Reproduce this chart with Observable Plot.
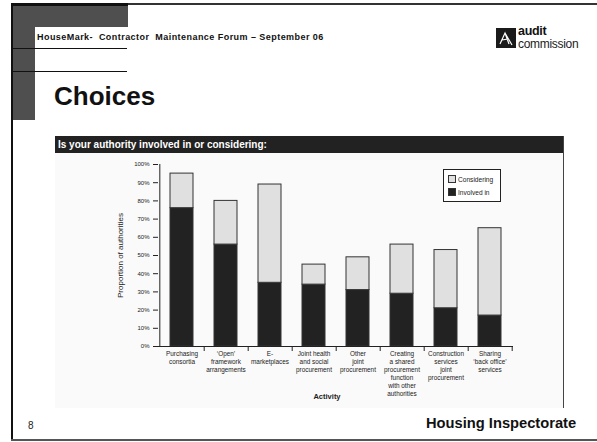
<!DOCTYPE html>
<html>
<head>
<meta charset="utf-8">
<script src="https://cdn.jsdelivr.net/npm/d3@7"></script>
<script src="https://cdn.jsdelivr.net/npm/@observablehq/plot@0.6"></script>
<style>
  body { margin: 0; background: #fff; font-family: "Liberation Sans", Arial, sans-serif; }
  #slide { position: relative; width: 597px; height: 442px; overflow: hidden; background: #fff; }
  .abs { position: absolute; }
  .txt { position: absolute; white-space: pre; line-height: 1; color: #111; }
  #legend { position: absolute; left: 443px; top: 169px; width: 56px; height: 31px; border: 1px solid #222; background: #fff; font-size: 6.6px; color: #222; }
  #legend .row { position: absolute; left: 4px; display: flex; align-items: center; }
  #legend .sw { width: 8px; height: 8px; border: 1px solid #333; box-sizing: border-box; margin-right: 2px; }
</style>
</head>
<body>
<div id="slide">
  <!-- slide frame -->
  <div class="abs" style="left:11px;top:3px;width:117px;height:3px;background:#111"></div>
  <div class="abs" style="left:128px;top:3px;width:469px;height:2px;background:#333"></div>
  <div class="abs" style="left:11px;top:3px;width:2px;height:438px;background:#111"></div>
  <div class="abs" style="left:11px;top:439px;width:586px;height:2px;background:#555"></div>
  <!-- grey header block -->
  <div class="abs" style="left:13px;top:6px;width:115px;height:21px;background:#4f4f4f"></div>
  <div class="abs" style="left:13px;top:27px;width:22px;height:93px;background:#4f4f4f"></div>
  <div class="abs" style="left:13px;top:48px;width:114px;height:1px;background:#111"></div>
  <div class="abs" style="left:13px;top:71px;width:114px;height:1px;background:#111"></div>

  <div class="txt" style="left:37px;top:33px;font-size:9px;font-weight:bold;letter-spacing:0.45px">HouseMark-  Contractor  Maintenance Forum – September 06</div>
  <div class="txt" style="left:54px;top:83px;font-size:26px;font-weight:bold">Choices</div>

  <!-- audit commission logo -->
  <svg class="abs" style="left:496px;top:28px" width="20" height="20" viewBox="0 0 20 20">
    <rect width="20" height="20" fill="#1a1a1a"/>
    <path d="M4 16 L9 5 L13 16 M6 12 L12 11 M9 5 L16 17" stroke="#fff" stroke-width="1.2" fill="none"/>
  </svg>
  <div class="txt" style="left:518px;top:25px;font-size:12.5px;font-weight:bold;letter-spacing:-0.3px">audit</div>
  <div class="txt" style="left:518px;top:38px;font-size:12px;letter-spacing:-0.3px;color:#222">commission</div>

  <!-- chart panel -->
  <div class="abs" style="left:55px;top:153px;width:508px;height:255px;background:#fafafa"></div>
  <div class="abs" style="left:55px;top:136px;width:508px;height:17px;background:#222"></div>
  <div class="abs" style="left:563px;top:136px;width:1px;height:272px;background:#444"></div>
  <div class="txt" style="left:58px;top:140px;font-size:10px;font-weight:bold;color:#fff">Is your authority involved in or considering:</div>

  <div id="chart" class="abs" style="left:55px;top:153px"></div>

  <div id="legend">
    <div class="row" style="top:5px"><div class="sw" style="background:#e0e0e0"></div>Considering</div>
    <div class="row" style="top:18px"><div class="sw" style="background:#222"></div>Involved in</div>
  </div>

  <div class="txt" style="left:28px;top:421px;font-size:10px;color:#222">8</div>
  <div class="txt" style="left:426px;top:416px;font-size:14.7px;font-weight:bold">Housing Inspectorate</div>
</div>

<script>
// Activities surveyed, in display order
const activities = [
  "Purchasing consortia",
  "'Open' framework arrangements",
  "E-marketplaces",
  "Joint health and social procurement",
  "Other joint procurement",
  "Creating a shared procurement function with other authorities",
  "Construction services joint procurement",
  "Sharing 'back office' services"
];

// Wrapped axis labels for each activity
const activityLabels = [
  "Purchasing\nconsortia",
  "\u2018Open\u2019\nframework\narrangements",
  "E-\nmarketplaces",
  "Joint health\nand social\nprocurement",
  "Other\njoint\nprocurement",
  "Creating\na shared\nprocurement\nfunction\nwith other\nauthorities",
  "Construction\nservices\njoint\nprocurement",
  "Sharing\n\u2018back office\u2019\nservices"
];

// Proportion of authorities (%)
const involvedIn = [76, 56, 35, 34, 31, 29, 21, 17];
const considering = [19, 24, 54, 11, 18, 27, 32, 48];

const statuses = ["Considering", "Involved in"];
const statusColors = ["#e0e0e0", "#222222"];
const yTicks = [0, 10, 20, 30, 40, 50, 60, 70, 80, 90, 100];

const rows = [];
activities.forEach((a, i) => {
  rows.push({activity: a, status: "Involved in", value: involvedIn[i]});
  rows.push({activity: a, status: "Considering", value: considering[i]});
});

const W = 508, H = 255, mL = 103, mR = 50, mT = 11, mB = 62;
const step = (W - mL - mR) / activities.length;

const chart = Plot.plot({
  width: W,
  height: H,
  marginLeft: mL,
  marginRight: mR,
  marginTop: mT,
  marginBottom: mB,
  style: {fontFamily: "'Liberation Sans', Arial, sans-serif", fontSize: "6px", color: "#222", background: "transparent"},
  x: {domain: activities, paddingInner: 0.48, paddingOuter: 0.24, axis: null},
  y: {domain: [0, 100], axis: null},
  color: {domain: statuses, range: statusColors},
  marks: [
    Plot.barY(rows, {x: "activity", y: "value", fill: "status", stroke: "#333", strokeWidth: 1}),
    // axis lines
    Plot.ruleY([0], {stroke: "#222"}),
    Plot.ruleX([activities[0]], {y1: 0, y2: 100, dx: -step / 2, stroke: "#222"}),
    Plot.axisY({ticks: yTicks, tickFormat: d => d + "%", tickSize: 5, tickPadding: 4, fontSize: 6, stroke: "#222", label: null}),
    // category boundary ticks
    Plot.axisX({tickSize: 5, dx: step / 2, tickFormat: () => "", stroke: "#222", label: null}),
    Plot.axisX({tickSize: 0, tickPadding: 4, tickFormat: d => activityLabels[activities.indexOf(d)], fontSize: 6.4, lineHeight: 1.25, label: null}),
    Plot.text(["Proportion of authorities"], {frameAnchor: "left", textAnchor: "middle", rotate: -90, dx: -38, fontSize: 8, fill: "#222"}),
    Plot.text(["Activity"], {frameAnchor: "bottom", lineAnchor: "middle", dx: -9, dy: 50, fontSize: 7.5, fontWeight: "bold", fill: "#222"})
  ]
});

document.getElementById("chart").appendChild(chart);
</script>
</body>
</html>
